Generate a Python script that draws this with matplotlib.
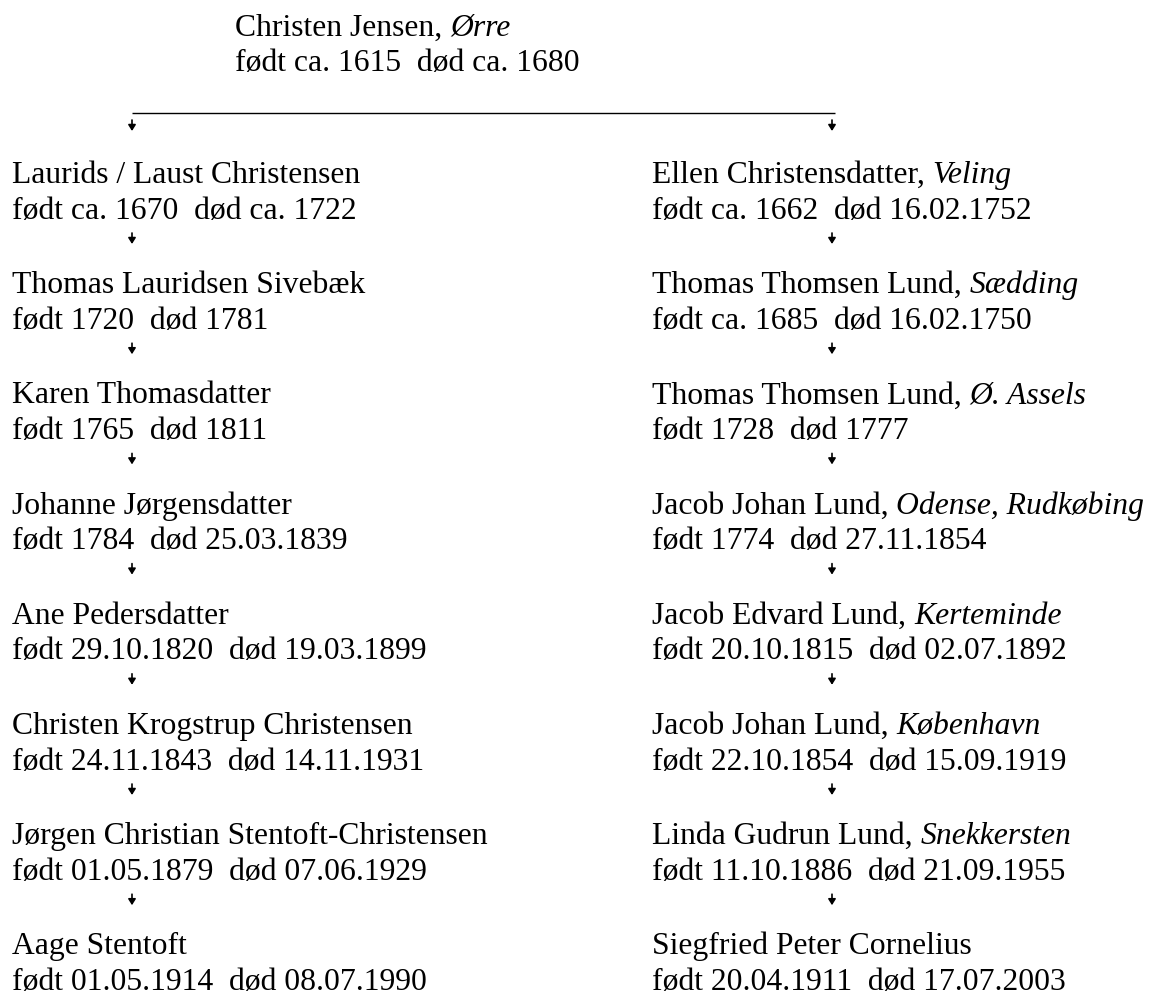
import matplotlib
matplotlib.use("Agg")
import matplotlib.pyplot as plt

# ---- data ----
top_name = "Christen Jensen,"
top_place = "Ørre"
top_dates = "født ca. 1615  død ca. 1680"

left_names = ["Laurids / Laust Christensen", "Thomas Lauridsen Sivebæk", "Karen Thomasdatter",
              "Johanne Jørgensdatter", "Ane Pedersdatter", "Christen Krogstrup Christensen",
              "Jørgen Christian Stentoft-Christensen", "Aage Stentoft"]
left_places = [None] * 8
left_dates = ["født ca. 1670  død ca. 1722", "født 1720  død 1781", "født 1765  død 1811",
              "født 1784  død 25.03.1839", "født 29.10.1820  død 19.03.1899",
              "født 24.11.1843  død 14.11.1931", "født 01.05.1879  død 07.06.1929",
              "født 01.05.1914  død 08.07.1990"]

right_names = ["Ellen Christensdatter,", "Thomas Thomsen Lund,", "Thomas Thomsen Lund,",
               "Jacob Johan Lund,", "Jacob Edvard Lund,", "Jacob Johan Lund,",
               "Linda Gudrun Lund,", "Siegfried Peter Cornelius"]
right_places = ["Veling", "Sædding", "Ø. Assels", "Odense, Rudkøbing", "Kerteminde",
                "København", "Snekkersten", None]
right_dates = ["født ca. 1662  død 16.02.1752", "født ca. 1685  død 16.02.1750",
               "født 1728  død 1777", "født 1774  død 27.11.1854",
               "født 20.10.1815  død 02.07.1892", "født 22.10.1854  død 15.09.1919",
               "født 11.10.1886  død 21.09.1955", "født 20.04.1911  død 17.07.2003"]

# ---- layout ----
W, H = 1153, 997
FS = 22.8
FONT = "Liberation Serif"

fig = plt.figure(figsize=(W / 100, H / 100), dpi=100)
ax = fig.add_axes([0, 0, 1, 1])
ax.set_xlim(0, W)
ax.set_ylim(H, 0)
ax.axis("off")
renderer = fig.canvas.get_renderer()


def text_width(s, style="normal"):
    t = ax.text(0, 0, s, fontsize=FS, family=FONT, style=style)
    w = t.get_window_extent(renderer).width
    t.remove()
    return w


space_w = text_width("a a") - text_width("aa")


def person(x, y, name, place, dates):
    t = ax.text(x, y, name, fontsize=FS, family=FONT, ha="left", va="baseline")
    if place:
        w = t.get_window_extent(renderer).width
        ax.text(x + w + space_w, y, place, fontsize=FS, family=FONT, style="italic",
                ha="left", va="baseline")
    ax.text(x, y + 35.5, dates, fontsize=FS, family=FONT, ha="left", va="baseline")


def arrow(x, y0, y1):
    ax.annotate("", xy=(x, y1), xytext=(x, y0),
                arrowprops=dict(arrowstyle="-|>,head_length=0.35,head_width=0.22",
                                color="black", lw=1.2, shrinkA=0, shrinkB=0))


# top person
person(235, 36, top_name, top_place, top_dates)
ax.plot([132, 835], [113, 113], color="black", lw=1.0, solid_capstyle="butt")

LX, RX = 12, 652
ALX, ARX = 132, 832
arrow(ALX, 120, 131)
arrow(ARX, 120, 131)

Y0, DY = 183, 110.2
for i in range(len(left_names)):
    y = Y0 + i * DY
    person(LX, y, left_names[i], left_places[i], left_dates[i])
    person(RX, y, right_names[i], right_places[i], right_dates[i])
    if i < len(left_names) - 1:
        arrow(ALX, y + 36 + 14, y + 36 + 25)
        arrow(ARX, y + 36 + 14, y + 36 + 25)

fig.savefig("out.png", dpi=100, facecolor="white")
